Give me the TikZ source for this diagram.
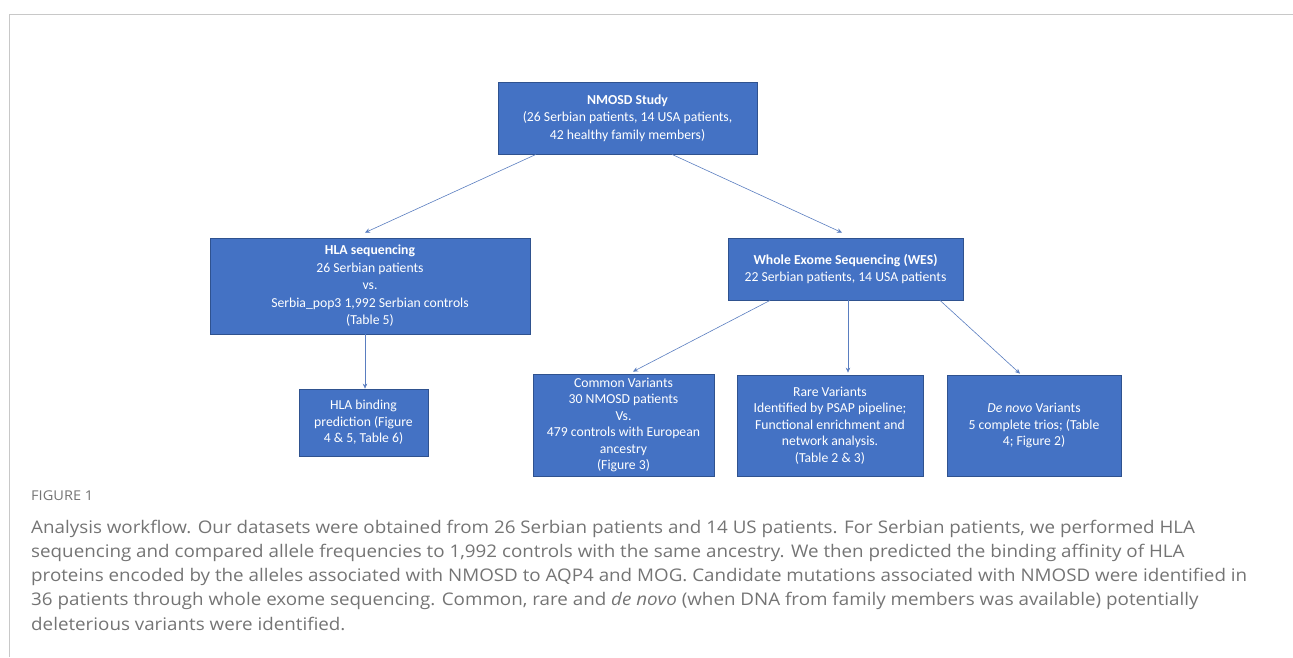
\documentclass[tikz,border=0pt]{standalone}
\usepackage{fontspec}
\setmainfont{Carlito}
\newfontfamily\capfont{Open Sans}[FakeStretch=1.08]
\usetikzlibrary{arrows.meta}
\definecolor{boxblue}{HTML}{4472C4}
\definecolor{boxedge}{HTML}{2F528F}
\definecolor{linkblue}{HTML}{5A7EC0}
\definecolor{capgray}{HTML}{747474}
\definecolor{framegray}{HTML}{C8C8C8}
\begin{document}
\begin{tikzpicture}[x=1pt,y=-1pt,
  box/.style={draw=boxedge, line width=0.8pt, fill=boxblue, text=white, align=center, inner sep=0pt},
  bigtxt/.style={font=\fontsize{13.7}{17.5}\selectfont},
  smalltxt/.style={font=\fontsize{13.7}{16.5}\selectfont},
  conn/.style={draw=linkblue, line width=0.6pt, -{Stealth[length=5pt,width=4.5pt]}},
  captxt/.style={anchor=mid west, text=capgray, inner sep=0pt, font=\capfont\fontsize{17.4}{20}\selectfont},
]
\useasboundingbox (0,0) rectangle (1293,657);
\draw[framegray, line width=1pt] (9,657) -- (9,14.5) -- (1293,14.5);

\node[box, bigtxt, minimum width=259pt, minimum height=72pt] (nmosd) at (627.5,118)
  {\textbf{NMOSD Study}\\(26 Serbian patients, 14 USA patients,\\42 healthy family members)};
\node[box, bigtxt, minimum width=320pt, minimum height=96pt] (hla) at (370,286)
  {\textbf{HLA sequencing}\\26 Serbian patients\\vs.\\Serbia\_pop3 1,992 Serbian controls\\(Table 5)};
\node[box, bigtxt, minimum width=235pt, minimum height=62pt] (wes) at (845.5,269)
  {\textbf{Whole Exome Sequencing (WES)}\\22 Serbian patients, 14 USA patients};
\node[box, smalltxt, minimum width=129pt, minimum height=67pt] (bind) at (363.5,422.5)
  {HLA binding\\prediction (Figure\\4 \& 5, Table 6)};
\node[box, smalltxt, minimum width=181pt, minimum height=102pt] (common) at (623.5,425)
  {Common Variants\\30 NMOSD patients\\Vs.\\479 controls with European\\ancestry\\(Figure 3)};
\node[box, smalltxt, minimum width=186pt, minimum height=101pt] (rare) at (830,425.5)
  {Rare Variants\\Identified by PSAP pipeline;\\Functional enrichment and\\network analysis.\\(Table 2 \& 3)};
\node[box, smalltxt, minimum width=174pt, minimum height=101pt] (denovo) at (1034,425.5)
  {\textit{De novo} Variants\\5 complete trios; (Table\\4; Figure 2)};

\draw[conn] ([xshift=-91.5pt]nmosd.south) -- ([xshift=-5pt,yshift=5pt]hla.north);
\draw[conn] ([xshift=44.5pt]nmosd.south) -- ([xshift=-3.5pt,yshift=5pt]wes.north);
\draw[conn] ([xshift=-5pt]hla.south) -- ([xshift=1.5pt]bind.north);
\draw[conn] ([xshift=-75.5pt]wes.south) -- ([xshift=9.5pt,yshift=2pt]common.north);
\draw[conn] ([xshift=2.5pt]wes.south) -- ([xshift=18pt,yshift=2pt]rare.north);
\draw[conn] ([xshift=94.5pt]wes.south) -- ([xshift=-14pt,yshift=1pt]denovo.north);

\node[anchor=mid west, text=capgray, inner sep=0pt, font=\capfont\fontsize{13.5}{14}\selectfont] (fig) at (31,498) {FIGURE 1};
\node[captxt] (c1) at (31,531) {Analysis workflow. Our datasets were obtained from 26 Serbian patients and 14 US patients. For Serbian patients, we performed HLA};
\node[captxt] (c2) at (31,555) {sequencing and compared allele frequencies to 1,992 controls with the same ancestry. We then predicted the binding affinity of HLA};
\node[captxt] (c3) at (31,579) {proteins encoded by the alleles associated with NMOSD to AQP4 and MOG. Candidate mutations associated with NMOSD were identified in};
\node[captxt] (c4) at (31,603) {36 patients through whole exome sequencing. Common, rare and \textit{de novo} (when DNA from family members was available) potentially};
\node[captxt] (c5) at (31,628) {deleterious variants were identified.};
\end{tikzpicture}
\end{document}
